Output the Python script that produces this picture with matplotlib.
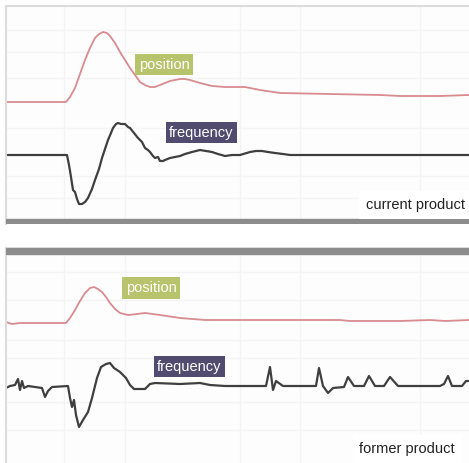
import matplotlib
matplotlib.use("Agg")
import matplotlib.pyplot as plt
import numpy as np

# ---------------- data (time in px-like units, amplitude up positive) -------------
top_pos_t = [6, 66, 70, 75, 80, 85, 90, 95, 99, 103, 107, 110, 115, 120, 125, 130, 135, 140, 145, 150,
             155, 160, 165, 170, 175, 180, 185, 190, 200, 212, 225, 245, 260, 280, 330, 380, 400, 440, 469]
top_pos_v = [0, 0, 5, 14, 28, 42, 54, 64, 68, 70, 69, 66, 59, 50, 42, 34, 27, 20, 17, 15,
             15, 17, 19, 21, 22, 23, 23, 22, 19, 16, 15, 15, 12, 9, 8, 7, 6, 6, 7]

top_freq_t = [6, 67, 69, 71, 73, 75, 77, 79, 82, 85, 88, 92, 95, 99, 102, 105, 108, 111, 113, 116, 118,
              121, 125, 128, 130, 134, 138, 142, 145, 148, 150, 153, 155, 158, 160, 163, 165, 170, 175,
              180, 185, 192, 200, 206, 212, 218, 225, 232, 240, 250, 256, 262, 268, 275, 283, 290, 469]
top_freq_v = [0, 0, -10, -22, -35, -37, -44, -49, -49, -47, -43, -34, -25, -14, -3, 6, 15, 22, 27, 31, 32,
              31, 31, 28, 27, 22, 17, 13, 7, 5, 3, -1, -3, -2, -6, -6, -5, -3, -2,
              -1, 1, 3, 5, 4, 3, 1, -1, 0, 0, 3, 4, 4, 3, 2, 1, 0, 0]

bot_pos_t = [6, 12, 20, 66, 70, 75, 80, 85, 90, 94, 98, 102, 106, 110, 115, 120, 128, 137, 145, 160,
             180, 205, 230, 300, 340, 350, 400, 430, 445, 469]
bot_pos_v = [1, -1, 0, 0, 5, 13, 22, 30, 35, 36, 34, 31, 26, 20, 14, 10, 8, 9, 10, 8,
             5, 3, 3, 3, 3, 2, 2, 3, 2, 3]

bot_freq_t = [6, 10, 15, 18, 20, 22, 24, 28, 35, 42, 45, 48, 52, 68, 70, 72, 74, 76, 79, 83, 88, 92, 97,
              101, 106, 110, 114, 120, 126, 130, 134, 145, 150, 155, 180, 200, 210, 225, 266, 270, 273,
              276, 283, 316, 319, 323, 328, 333, 344, 348, 354, 364, 369, 375, 384, 390, 398, 440, 444,
              448, 452, 462, 466, 469]
bot_freq_v = [-2, 0, 1, 7, -4, 5, -2, 0, -1, -2, -11, -5, -1, 0, -12, -21, -14, -29, -41, -34, -26, -12, 8,
              19, 22, 23, 18, 14, 8, 1, -3, -3, 2, 3, 2, 3, 1, 0, 0, 19, -4,
              5, 0, 0, 18, 0, -7, -2, -1, 9, 0, 0, 10, 0, 0, 9, 0, 0, 2,
              10, 0, 0, 5, 5]

series_labels = ["position", "frequency"]
panel_titles = ["current product", "former product"]

# ---------------- style ----------------
W, H = 469, 463
POS_COLOR = "#d98b8f"
FREQ_COLOR = "#3f3f3f"
POS_BOX = "#b8c46c"
FREQ_BOX = "#514b6f"
BAR_COLOR = "#8c8c8c"
GRID_COLOR = "#f4f4f4"
FRAME_COLOR = "#dcdcdc"
FONT = ["Liberation Sans", "DejaVu Sans"]
FS = 10.5

fig = plt.figure(figsize=(W / 100, H / 100), dpi=100)
fig.patch.set_facecolor("white")


def make_axes(top_px, bottom_px):
    ax = fig.add_axes([6 / W, (H - bottom_px) / H, (W - 6) / W, (bottom_px - top_px) / H])
    ax.set_xlim(6, W)
    ax.set_ylim(-bottom_px, -top_px)
    ax.set_facecolor("#fdfdfd")
    for s in ("right", "bottom"):
        ax.spines[s].set_visible(False)
    for s in ("left", "top"):
        ax.spines[s].set_color(FRAME_COLOR)
        ax.spines[s].set_linewidth(1.5)
    ax.set_xticks([])
    ax.set_yticks([])
    return ax


def label(ax, x, y, s, fc):
    ax.text(x, y, s, color="white", fontsize=FS, family=FONT, ha="center", va="center",
            bbox=dict(boxstyle="square,pad=0.25", fc=fc, ec="none"), zorder=4)


# ---------- top panel ----------
ax1 = make_axes(6, 224)
for gy in [30, 52, 78, 128, 176, 198]:
    ax1.axhline(-gy, color=GRID_COLOR, lw=1, zorder=0)
for gx in [64, 125, 240, 300, 420]:
    ax1.axvline(gx, color=GRID_COLOR, lw=1, zorder=0)
ax1.axhspan(-225, -219, color=BAR_COLOR, zorder=3)
ax1.plot(top_pos_t, np.array(top_pos_v) - 102, color=POS_COLOR, lw=1.3, zorder=2)
ax1.plot(top_freq_t, np.array(top_freq_v) - 155, color=FREQ_COLOR, lw=1.6, zorder=2)
label(ax1, 164, -64.5, series_labels[0], POS_BOX)
label(ax1, 201.5, -132.5, series_labels[1], FREQ_BOX)
ax1.text(465, -205, panel_titles[0], color="#222222", fontsize=FS, family=FONT, ha="right", va="center",
         bbox=dict(boxstyle="square,pad=0.45", fc="white", ec="none"), zorder=4)

# ---------- bottom panel ----------
ax2 = make_axes(248, 463)
for gy in [272, 300, 340, 358, 402, 430]:
    ax2.axhline(-gy, color=GRID_COLOR, lw=1, zorder=0)
for gx in [64, 125, 240, 300, 420]:
    ax2.axvline(gx, color=GRID_COLOR, lw=1, zorder=0)
ax2.axhspan(-254, -248, color=BAR_COLOR, zorder=3)
ax2.plot(bot_pos_t, np.array(bot_pos_v) - 323, color=POS_COLOR, lw=1.3, zorder=2)
ax2.plot(bot_freq_t, np.array(bot_freq_v) - 386, color=FREQ_COLOR, lw=1.6, zorder=2)
label(ax2, 151, -288, series_labels[0], POS_BOX)
label(ax2, 189.5, -366.5, series_labels[1], FREQ_BOX)
ax2.text(455, -449, panel_titles[1], color="#222222", fontsize=FS, family=FONT, ha="right", va="center",
         bbox=dict(boxstyle="square,pad=0.45", fc="white", ec="none"), zorder=4)

fig.savefig("out.png", dpi=100, facecolor="white")
